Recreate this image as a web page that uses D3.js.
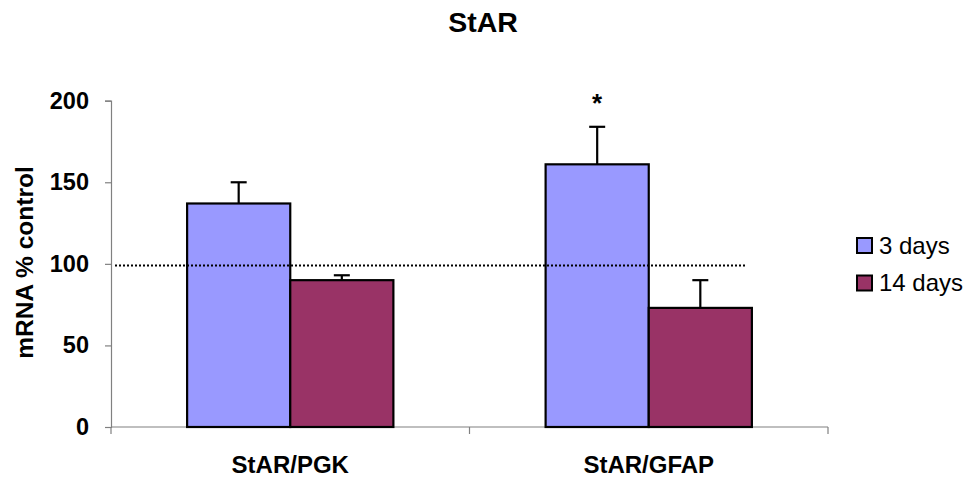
<!DOCTYPE html>
<html>
<head>
<meta charset="utf-8">
<script src="https://cdn.jsdelivr.net/npm/d3@7"></script>
<style>
  body { margin: 0; background: #fff; }
  svg { display: block; font-family: "Liberation Sans", Arial, sans-serif; }
</style>
</head>
<body>
<svg id="chart" width="971" height="480"></svg>
<script>
// StAR mRNA expression, % of control
const categories = ["StAR/PGK", "StAR/GFAP"];
const seriesNames = ["3 days", "14 days"];
const seriesColors = ["#9999ff", "#993366"];
const days3 = [137, 161];
const days3Err = [13, 23];
const days14 = [90, 73];
const days14Err = [3, 17];
const significant = [false, true];   // asterisk over the 3-day bar
const yTicks = [0, 50, 100, 150, 200];
const controlLevel = 99;

const FONT = "Liberation Sans, Arial, sans-serif";
const svg = d3.select("#chart");
const plot = { left: 111, right: 828, top: 100.7, bottom: 427 };

const x0 = d3.scaleBand().domain(categories).range([plot.left, plot.right]).paddingInner(0).paddingOuter(0);
const x1 = d3.scaleBand().domain(seriesNames).range([0, x0.bandwidth()]).paddingInner(0).paddingOuter(0.738);
const y = d3.scaleLinear().domain([0, 200]).range([plot.bottom, plot.top]);

// Title
svg.append("text").attr("x", 483).attr("y", 32).attr("text-anchor", "middle")
  .attr("font-size", 28.5).attr("font-weight", "bold").text("StAR");

// Y axis
const yAxis = svg.append("g").attr("transform", `translate(${plot.left},0)`)
  .call(d3.axisLeft(y).tickValues(yTicks).tickSize(6).tickPadding(16).tickFormat(d3.format("d")));
yAxis.attr("font-family", FONT);
yAxis.select(".domain").attr("stroke", "#808080").attr("stroke-width", 1.2);
yAxis.selectAll(".tick line").attr("stroke", "#808080").attr("stroke-width", 1.2);
yAxis.selectAll(".tick text").attr("font-size", 23.5).attr("font-weight", "bold")
  .attr("fill", "#000").attr("font-family", FONT);

// X axis with ticks between the groups
const xAxis = svg.append("g").attr("transform", `translate(0,${plot.bottom})`);
xAxis.append("line").attr("x1", plot.left).attr("x2", plot.right)
  .attr("stroke", "#808080").attr("stroke-width", 1.2);
const boundaries = [plot.left, ...categories.map(c => x0(c) + x0.bandwidth())];
xAxis.selectAll(".xt").data(boundaries).join("line")
  .attr("x1", d => d).attr("x2", d => d).attr("y1", 0).attr("y2", 7)
  .attr("stroke", "#808080").attr("stroke-width", 1.2);
xAxis.selectAll(".xl").data(categories).join("text")
  .attr("x", d => x0(d) + x0.bandwidth() / 2).attr("y", 46)
  .attr("text-anchor", "middle").attr("font-size", 24).attr("font-weight", "bold")
  .text(d => d);

// Y axis title
svg.append("text").attr("transform", `translate(33,${262.5}) rotate(-90)`)
  .attr("text-anchor", "middle").attr("font-size", 24.5).attr("font-weight", "bold")
  .text("mRNA % control");

// Bars
const rows = categories.map((c, i) => ({
  cat: c,
  items: [
    { s: seriesNames[0], v: days3[i], e: days3Err[i], color: seriesColors[0] },
    { s: seriesNames[1], v: days14[i], e: days14Err[i], color: seriesColors[1] }
  ]
}));

const groups = svg.selectAll(".grp").data(rows).join("g")
  .attr("transform", d => `translate(${x0(d.cat)},0)`);

// Error bars (upper only), drawn first so the bar outline sits on top
groups.selectAll(".err").data(d => d.items).join("g").each(function (d) {
  const g = d3.select(this);
  const cx = x1(d.s) + x1.bandwidth() / 2;
  g.append("line").attr("x1", cx).attr("x2", cx).attr("y1", y(d.v)).attr("y2", y(d.v + d.e))
    .attr("stroke", "#000").attr("stroke-width", 2.2);
  g.append("line").attr("x1", cx - 8).attr("x2", cx + 8).attr("y1", y(d.v + d.e)).attr("y2", y(d.v + d.e))
    .attr("stroke", "#000").attr("stroke-width", 2.2);
});

groups.selectAll("rect").data(d => d.items).join("rect")
  .attr("x", d => x1(d.s)).attr("width", x1.bandwidth())
  .attr("y", d => y(d.v)).attr("height", d => y(0) - y(d.v))
  .attr("fill", d => d.color).attr("stroke", "#000").attr("stroke-width", 2.2);

// Significance marker
groups.filter((d, i) => significant[i]).append("text")
  .attr("x", d => x1(seriesNames[0]) + x1.bandwidth() / 2)
  .attr("y", d => y(d.items[0].v + d.items[0].e) - 15)
  .attr("text-anchor", "middle").attr("font-size", 26).attr("font-weight", "bold").text("*");

// Control reference line
svg.append("line").attr("x1", 115).attr("x2", 747)
  .attr("y1", y(controlLevel)).attr("y2", y(controlLevel))
  .attr("stroke", "#000").attr("stroke-width", 2).attr("stroke-dasharray", "2,2");

// Legend
const legend = svg.append("g").attr("transform", "translate(857,238)");
seriesNames.forEach((name, i) => {
  const row = legend.append("g").attr("transform", `translate(0,${i * 37.5})`);
  row.append("rect").attr("x", 0).attr("y", 0).attr("width", 15).attr("height", 15)
    .attr("fill", seriesColors[i]).attr("stroke", "#000").attr("stroke-width", 2);
  row.append("text").attr("x", 22).attr("y", 15.5).attr("font-size", 24).text(name);
});
</script>
</body>
</html>
